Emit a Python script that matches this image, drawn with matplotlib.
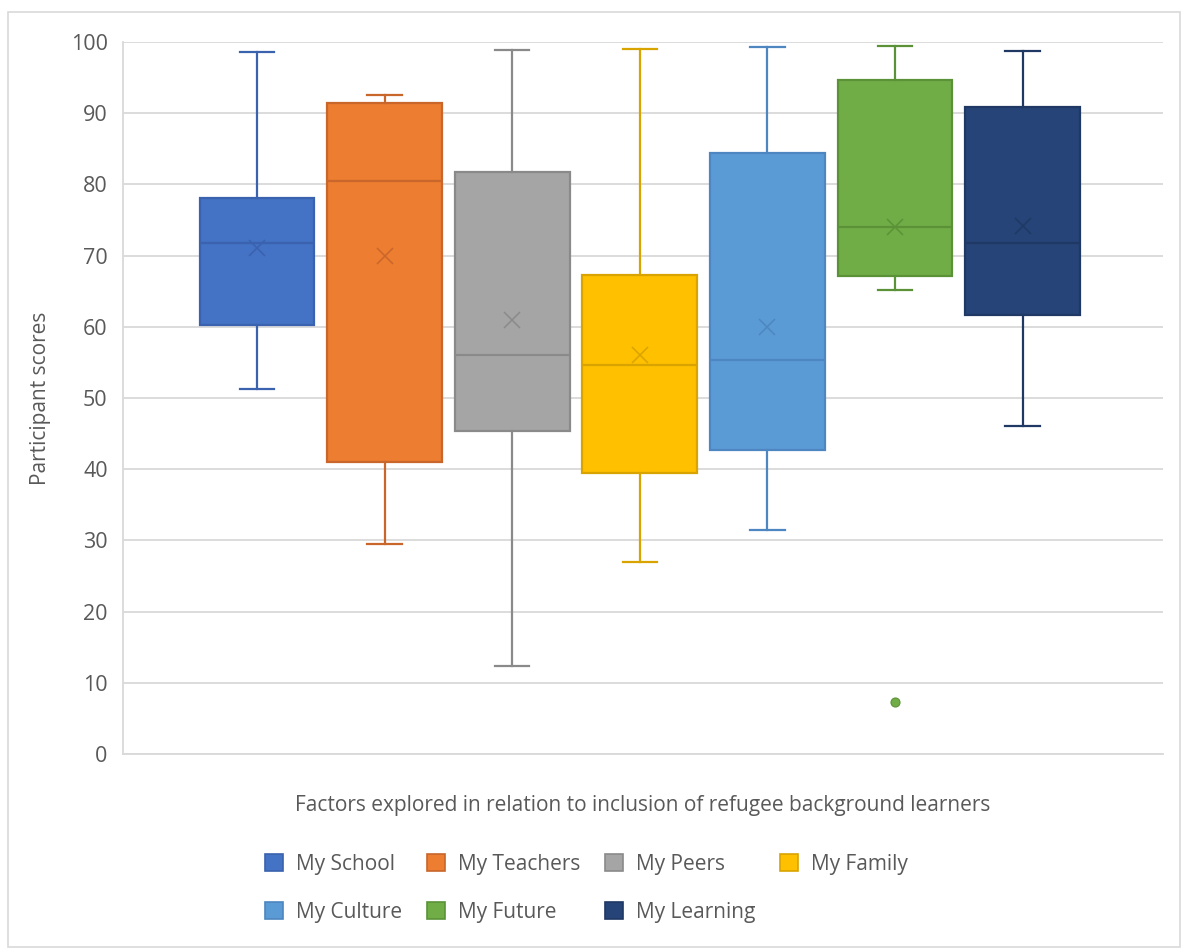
import matplotlib
matplotlib.use("Agg")
import matplotlib.pyplot as plt
from matplotlib.patches import Patch, Rectangle

plt.rcParams["font.family"] = ["Open Sans", "DejaVu Sans"]

# Five-number summaries per factor, plus mean and outliers
categories = ["My School", "My Teachers", "My Peers", "My Family",
              "My Culture", "My Future", "My Learning"]
whisker_lo = [51.3, 29.5, 12.4, 26.9, 31.5, 65.1, 46.1]
q1 = [60.2, 41.0, 45.3, 39.4, 42.7, 67.2, 61.6]
medians = [71.8, 80.5, 56.1, 54.6, 55.3, 74.0, 71.8]
q3 = [78.1, 91.4, 81.8, 67.3, 84.4, 94.7, 90.9]
whisker_hi = [98.6, 92.5, 98.9, 99.0, 99.3, 99.4, 98.8]
means = [71.0, 70.0, 61.0, 56.0, 60.0, 74.0, 74.2]
outliers = [[], [], [], [], [], [7.3], []]

fills = ["#4472C4", "#ED7D31", "#A5A5A5", "#FFC000",
         "#5B9BD5", "#70AD47", "#264478"]
edges = ["#3A62AE", "#C8662B", "#8A8A8A", "#D9A400",
         "#4D86C0", "#5B9238", "#1F3864"]

stats = [dict(label=c, whislo=lo, q1=a, med=m, q3=b, whishi=hi,
              mean=mu, fliers=f)
         for c, lo, a, m, b, hi, mu, f in zip(categories, whisker_lo, q1,
                                              medians, q3, whisker_hi,
                                              means, outliers)]

fig = plt.figure(figsize=(11.86, 9.52), dpi=100)
ax = fig.add_axes([123 / 1186, 198 / 952, 1040 / 1186, 712 / 952])

positions = list(range(len(categories)))
bp = ax.bxp(stats, positions=positions, widths=0.9, capwidths=0.27,
            patch_artist=True, showmeans=True, showfliers=True,
            manage_ticks=False)

for i, (fc, ec) in enumerate(zip(fills, edges)):
    bp["boxes"][i].set(facecolor=fc, edgecolor=ec, linewidth=1.6)
    bp["medians"][i].set(color=ec, linewidth=1.6)
    for art in bp["whiskers"][2 * i:2 * i + 2] + bp["caps"][2 * i:2 * i + 2]:
        art.set(color=ec, linewidth=1.6)
    bp["means"][i].set(marker="x", markersize=12, markeredgecolor=ec,
                       markeredgewidth=1.1, markerfacecolor="none")
    bp["fliers"][i].set(marker="o", markersize=6.5, markerfacecolor=fc,
                        markeredgecolor=ec, markeredgewidth=0.8)

ax.set_xlim(-1.05, 7.10)
ax.set_ylim(0, 100)
ax.set_yticks(range(0, 101, 10))
ax.set_xticks([])
ax.tick_params(axis="y", length=0, pad=11, labelsize=15.5,
               labelcolor="#595959")
ax.yaxis.grid(True, color="#D9D9D9", linewidth=1.3)
ax.set_axisbelow(True)
for side in ("top", "right"):
    ax.spines[side].set_visible(False)
for side in ("left", "bottom"):
    ax.spines[side].set_color("#D9D9D9")
    ax.spines[side].set_linewidth(1.3)

ax.set_ylabel("Participant scores", fontsize=15, color="#595959")
ax.yaxis.set_label_coords(-0.069, 0.5)
ax.set_xlabel("Factors explored in relation to inclusion of refugee background learners",
              fontsize=15, color="#595959")
ax.xaxis.set_label_coords(0.5, -0.058)

# legend fills column by column, so interleave to read across the rows
order = [0, 4, 1, 5, 2, 6, 3]
handles = [Patch(facecolor=fills[i], edgecolor=edges[i], linewidth=1.2)
           for i in order]
fig.legend(handles, [categories[i] for i in order], loc="upper center",
           bbox_to_anchor=(0.4945, 1 - 835 / 952), ncol=4, frameon=False,
           fontsize=15, labelcolor="#595959", handlelength=0.85,
           handleheight=0.85, handletextpad=0.62, columnspacing=1.2,
           labelspacing=1.3)

# light border around the whole chart area
fig.add_artist(Rectangle((8 / 1186, 5 / 952), 1172 / 1186, 935 / 952,
                         transform=fig.transFigure, fill=False,
                         edgecolor="#D9D9D9", linewidth=1.2))

fig.savefig("out.png", dpi=100)
